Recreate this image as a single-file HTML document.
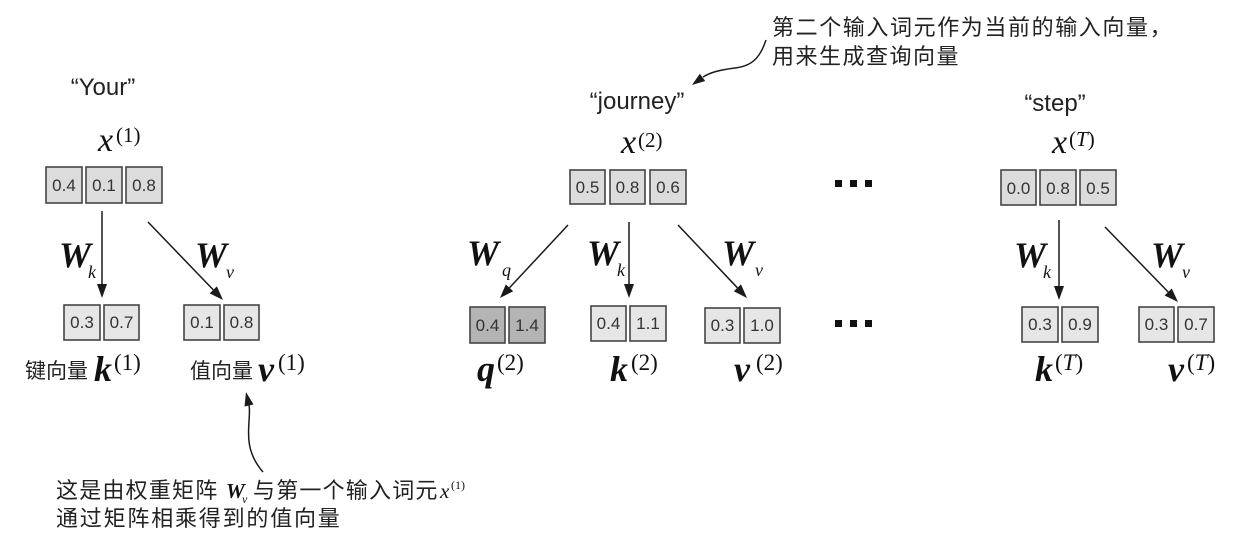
<!DOCTYPE html>
<html>
<head>
<meta charset="utf-8">
<style>
html,body{margin:0;padding:0;background:#fff;}
svg{display:block;}
.w{font-family:"Liberation Sans",sans-serif;font-size:24px;fill:#222;}
.n{font-family:"Liberation Sans",sans-serif;font-size:17px;fill:#333;text-anchor:middle;}
.m{font-family:"Liberation Serif",serif;font-style:italic;fill:#111;}
.b{font-family:"Liberation Serif",serif;font-style:italic;font-weight:bold;fill:#111;}
.s{font-family:"Liberation Serif",serif;fill:#111;}
.cn{font-family:"Liberation Sans","Noto Sans CJK SC",sans-serif;fill:#222;}
.bx{stroke:#454545;stroke-width:1.6;}
.ln{stroke:#1a1a1a;stroke-width:1.5;fill:none;}
.ah{fill:#1a1a1a;}
</style>
</head>
<body>
<svg width="1246" height="540" viewBox="0 0 1246 540" xmlns="http://www.w3.org/2000/svg">
<rect width="1246" height="540" fill="#fff"/>

<!-- ===== Group 1: Your ===== -->
<text class="w" x="103" y="95" text-anchor="middle">“Your”</text>
<text class="m" x="98" y="151" font-size="34">x</text>
<text class="s" x="116" y="142" font-size="21">(1)</text>

<rect class="bx" x="46" y="167" width="36" height="36" fill="#dcdcdc"/>
<rect class="bx" x="86" y="167" width="36" height="36" fill="#dcdcdc"/>
<rect class="bx" x="126" y="167" width="36" height="36" fill="#dcdcdc"/>
<text class="n" x="64" y="191">0.4</text>
<text class="n" x="104" y="191">0.1</text>
<text class="n" x="144" y="191">0.8</text>

<line class="ln" x1="102" y1="211" x2="102" y2="286"/>
<polygon class="ah" points="102,298 97,284 107,284"/>
<line class="ln" x1="148" y1="222" x2="213.3" y2="289.9"/>
<polygon class="ah" points="223,300 209.7,293.4 216.9,286.4"/>

<text class="b" x="59" y="267" font-size="36">W</text>
<text class="m" x="88" y="278" font-size="18">k</text>
<text class="b" x="195" y="267" font-size="36">W</text>
<text class="m" x="226" y="278" font-size="18">v</text>

<rect class="bx" x="64" y="305" width="36" height="35" fill="#e6e6e6"/>
<rect class="bx" x="104" y="305" width="35" height="35" fill="#e6e6e6"/>
<text class="n" x="82" y="328">0.3</text>
<text class="n" x="121.5" y="328">0.7</text>
<rect class="bx" x="184" y="305" width="36" height="35" fill="#e6e6e6"/>
<rect class="bx" x="224" y="305" width="35" height="35" fill="#e6e6e6"/>
<text class="n" x="202" y="328">0.1</text>
<text class="n" x="241.5" y="328">0.8</text>

<text class="cn" x="25" y="378" font-size="21">键向量</text>
<text class="b" x="94" y="381" font-size="36">k</text>
<text class="s" x="114" y="370" font-size="23">(1)</text>
<text class="cn" x="190" y="378" font-size="21">值向量</text>
<text class="b" x="258" y="381" font-size="36">v</text>
<text class="s" x="278" y="370" font-size="23">(1)</text>

<!-- bottom annotation -->
<path class="ln" d="M263,472 C240,446 252,420 249,405"/>
<polygon class="ah" points="246,392 244.5,406.5 253.5,404.5"/>
<text class="cn" x="56" y="498" font-size="22" letter-spacing="1.2">这是由权重矩阵</text>
<text class="b" x="226" y="498" font-size="21">W</text>
<text class="m" x="242" y="503" font-size="12">v</text>
<text class="cn" x="253" y="498" font-size="22" letter-spacing="1.2">与第一个输入词元</text>
<text class="m" x="440" y="498" font-size="21">x</text>
<text class="s" x="451" y="489" font-size="12">(1)</text>
<text class="cn" x="56" y="526" font-size="22" letter-spacing="1.8">通过矩阵相乘得到的值向量</text>

<!-- ===== Group 2: journey ===== -->
<text class="cn" x="772" y="35" font-size="22" letter-spacing="1.6">第二个输入词元作为当前的输入向量，</text>
<text class="cn" x="772" y="64" font-size="22" letter-spacing="1.5">用来生成查询向量</text>
<path class="ln" d="M766,40 C760,58 752,66 735,68 C720,70 711,72 703,77"/>
<polygon class="ah" points="692,85 705.2,81.0 699.8,73.8"/>

<text class="w" x="637" y="109" text-anchor="middle">“journey”</text>
<text class="m" x="621" y="153" font-size="34">x</text>
<text class="s" x="638" y="147" font-size="21">(2)</text>

<rect class="bx" x="570" y="170" width="35" height="34" fill="#dcdcdc"/>
<rect class="bx" x="610" y="170" width="35" height="34" fill="#dcdcdc"/>
<rect class="bx" x="650" y="170" width="36" height="34" fill="#dcdcdc"/>
<text class="n" x="587.5" y="193">0.5</text>
<text class="n" x="627.5" y="193">0.8</text>
<text class="n" x="668" y="193">0.6</text>

<line class="ln" x1="568" y1="225" x2="509.5" y2="287.8"/>
<polygon class="ah" points="500,298 505.8,284.4 513.2,291.2"/>
<line class="ln" x1="629" y1="222" x2="629" y2="286"/>
<polygon class="ah" points="629,298 624,284 634,284"/>
<line class="ln" x1="678" y1="225" x2="737.4" y2="287.8"/>
<polygon class="ah" points="747,298 733.8,291.2 741.0,284.4"/>

<text class="b" x="467" y="265" font-size="36">W</text>
<text class="m" x="502" y="276" font-size="18">q</text>
<text class="b" x="587" y="265" font-size="36">W</text>
<text class="m" x="617" y="276" font-size="18">k</text>
<text class="b" x="722" y="265" font-size="36">W</text>
<text class="m" x="755" y="276" font-size="18">v</text>

<rect class="bx" x="470" y="307" width="35" height="36" fill="#b4b4b4"/>
<rect class="bx" x="509" y="307" width="36" height="36" fill="#b4b4b4"/>
<text class="n" x="487.5" y="331">0.4</text>
<text class="n" x="527" y="331">1.4</text>
<rect class="bx" x="591" y="306" width="35" height="35" fill="#e6e6e6"/>
<rect class="bx" x="630" y="306" width="36" height="35" fill="#e6e6e6"/>
<text class="n" x="608.5" y="329">0.4</text>
<text class="n" x="648" y="329">1.1</text>
<rect class="bx" x="705" y="308" width="35" height="35" fill="#e6e6e6"/>
<rect class="bx" x="744" y="308" width="36" height="35" fill="#e6e6e6"/>
<text class="n" x="722.5" y="331">0.3</text>
<text class="n" x="762" y="331">1.0</text>

<text class="b" x="477" y="381" font-size="36">q</text>
<text class="s" x="497" y="370" font-size="23">(2)</text>
<text class="b" x="610" y="381" font-size="36">k</text>
<text class="s" x="631" y="370" font-size="23">(2)</text>
<text class="b" x="734" y="381" font-size="36">v</text>
<text class="s" x="756" y="370" font-size="23">(2)</text>

<!-- dots -->
<rect x="835" y="180" width="7" height="7" fill="#111"/>
<rect x="850" y="180" width="7" height="7" fill="#111"/>
<rect x="865" y="180" width="7" height="7" fill="#111"/>
<rect x="835" y="320" width="7" height="7" fill="#111"/>
<rect x="850" y="320" width="7" height="7" fill="#111"/>
<rect x="865" y="320" width="7" height="7" fill="#111"/>

<!-- ===== Group T: step ===== -->
<text class="w" x="1055" y="111" text-anchor="middle">“step”</text>
<text class="m" x="1052" y="153" font-size="34">x</text>
<text class="s" x="1069" y="146" font-size="21">(<tspan font-style="italic">T</tspan>)</text>

<rect class="bx" x="1001" y="170" width="35" height="35" fill="#dcdcdc"/>
<rect class="bx" x="1040" y="170" width="36" height="35" fill="#dcdcdc"/>
<rect class="bx" x="1080" y="170" width="36" height="35" fill="#dcdcdc"/>
<text class="n" x="1018.5" y="194">0.0</text>
<text class="n" x="1058" y="194">0.8</text>
<text class="n" x="1098" y="194">0.5</text>

<line class="ln" x1="1059" y1="220" x2="1059" y2="288"/>
<polygon class="ah" points="1059,300 1054,286 1064,286"/>
<line class="ln" x1="1105" y1="227" x2="1168.2" y2="292"/>
<polygon class="ah" points="1178,302 1164.6,295.5 1171.8,288.5"/>

<text class="b" x="1014" y="267" font-size="36">W</text>
<text class="m" x="1043" y="278" font-size="18">k</text>
<text class="b" x="1151" y="267" font-size="36">W</text>
<text class="m" x="1182" y="278" font-size="18">v</text>

<rect class="bx" x="1022" y="307" width="36" height="35" fill="#e6e6e6"/>
<rect class="bx" x="1062" y="307" width="36" height="35" fill="#e6e6e6"/>
<text class="n" x="1040" y="330">0.3</text>
<text class="n" x="1080" y="330">0.9</text>
<rect class="bx" x="1139" y="307" width="35" height="35" fill="#e6e6e6"/>
<rect class="bx" x="1178" y="307" width="36" height="35" fill="#e6e6e6"/>
<text class="n" x="1156.5" y="330">0.3</text>
<text class="n" x="1196" y="330">0.7</text>

<text class="b" x="1035" y="381" font-size="36">k</text>
<text class="s" x="1055" y="370" font-size="23">(<tspan font-style="italic">T</tspan>)</text>
<text class="b" x="1168" y="381" font-size="36">v</text>
<text class="s" x="1187" y="370" font-size="23">(<tspan font-style="italic">T</tspan>)</text>
</svg>
</body>
</html>
